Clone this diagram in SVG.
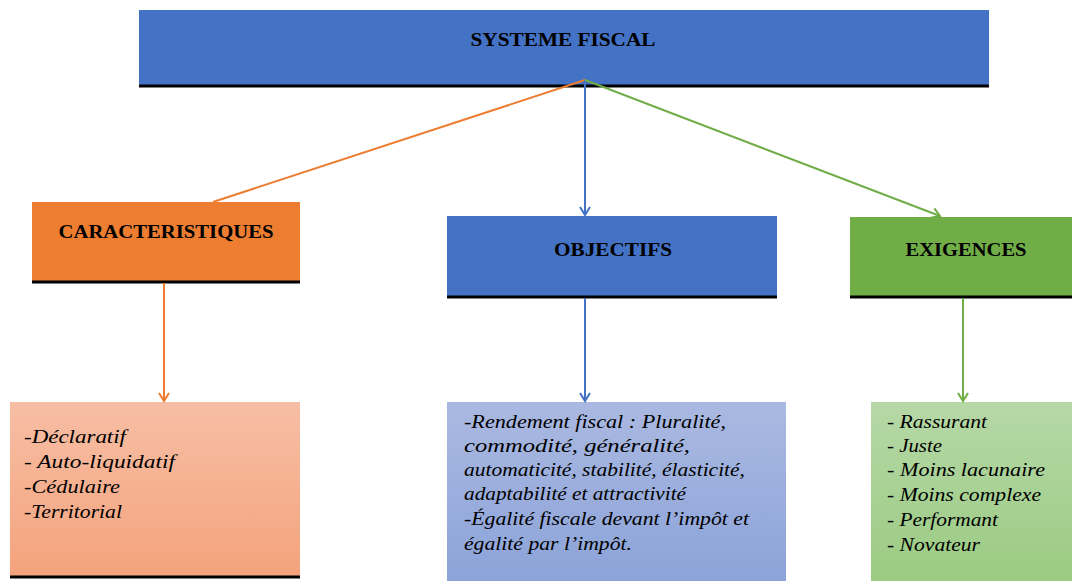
<svg xmlns="http://www.w3.org/2000/svg" width="1072" height="581" viewBox="0 0 1072 581">
<defs>
<linearGradient id="gO" x1="0" y1="0" x2="0" y2="1"><stop offset="0" stop-color="#F7BEA5"/><stop offset="1" stop-color="#F4A37C"/></linearGradient>
<linearGradient id="gB" x1="0" y1="0" x2="0" y2="1"><stop offset="0" stop-color="#AAB9E1"/><stop offset="1" stop-color="#8CA3D9"/></linearGradient>
<linearGradient id="gG" x1="0" y1="0" x2="0" y2="1"><stop offset="0" stop-color="#B6D8A7"/><stop offset="1" stop-color="#9BCB83"/></linearGradient>
<marker id="aO" markerWidth="12" markerHeight="12" refX="10" refY="6" orient="auto" markerUnits="userSpaceOnUse"><path d="M2,1 L10,6 L2,11" fill="none" stroke="#ED7D31" stroke-width="2"/></marker>
<marker id="aB" markerWidth="12" markerHeight="12" refX="10" refY="6" orient="auto" markerUnits="userSpaceOnUse"><path d="M2,1 L10,6 L2,11" fill="none" stroke="#4472C4" stroke-width="2"/></marker>
<marker id="aG" markerWidth="12" markerHeight="12" refX="10" refY="6" orient="auto" markerUnits="userSpaceOnUse"><path d="M2,1 L10,6 L2,11" fill="none" stroke="#70AD47" stroke-width="2"/></marker>
</defs>
<style>
.h{font-family:"Liberation Serif","Times New Roman",serif;font-weight:bold;font-size:18px;fill:#000;text-anchor:middle}
.t{font-family:"Liberation Serif","Times New Roman",serif;font-style:italic;font-size:18px;fill:#000}
.base{stroke:#000;stroke-width:3}
.c{fill:none;stroke-width:2}
</style>
<rect width="1072" height="581" fill="#fff"/>
<g id="systeme">
<rect x="139" y="10" width="850" height="75" fill="#4472C4"/>
<line class="base" x1="139" y1="86" x2="989" y2="86"/>
<text class="h" x="563" y="46" textLength="185" lengthAdjust="spacingAndGlyphs">SYSTEME FISCAL</text>
</g>
<g id="caracteristiques">
<rect x="32" y="202" width="268" height="80" fill="#ED7D31"/>
<line class="base" x1="32" y1="282" x2="300" y2="282"/>
<text class="h" x="166" y="238" textLength="215" lengthAdjust="spacingAndGlyphs">CARACTERISTIQUES</text>
</g>
<g id="objectifs">
<rect x="447" y="216" width="330" height="81" fill="#4472C4"/>
<line class="base" x1="447" y1="297" x2="777" y2="297"/>
<text class="h" x="613" y="256" textLength="118" lengthAdjust="spacingAndGlyphs">OBJECTIFS</text>
</g>
<g id="exigences">
<rect x="850" y="217" width="222" height="80" fill="#70AD47"/>
<line class="base" x1="850" y1="297" x2="1072" y2="297"/>
<text class="h" x="966" y="256" textLength="121" lengthAdjust="spacingAndGlyphs">EXIGENCES</text>
</g>
<g id="liste-caracteristiques">
<rect x="10" y="402" width="290" height="174" fill="url(#gO)"/>
<line class="base" x1="10" y1="577" x2="300" y2="577"/>
<text class="t" x="24" y="443" textLength="102" lengthAdjust="spacingAndGlyphs">-Déclaratif</text>
<text class="t" x="24" y="468" textLength="151" lengthAdjust="spacingAndGlyphs">- Auto-liquidatif</text>
<text class="t" x="24" y="493" textLength="96" lengthAdjust="spacingAndGlyphs">-Cédulaire</text>
<text class="t" x="24" y="518" textLength="98" lengthAdjust="spacingAndGlyphs">-Territorial</text>
</g>
<g id="liste-objectifs">
<rect x="447" y="402" width="339" height="179" fill="url(#gB)"/>
<text class="t" x="464" y="428" textLength="262" lengthAdjust="spacingAndGlyphs">-Rendement fiscal  : Pluralité,</text>
<text class="t" x="464" y="452" textLength="226" lengthAdjust="spacingAndGlyphs">commodité,  généralité,</text>
<text class="t" x="464" y="476" textLength="281" lengthAdjust="spacingAndGlyphs">automaticité, stabilité, élasticité,</text>
<text class="t" x="464" y="500" textLength="222" lengthAdjust="spacingAndGlyphs">adaptabilité et attractivité</text>
<text class="t" x="464" y="525" textLength="285" lengthAdjust="spacingAndGlyphs">-Égalité fiscale devant l’impôt et</text>
<text class="t" x="464" y="550" textLength="168" lengthAdjust="spacingAndGlyphs">égalité par l’impôt.</text>
</g>
<g id="liste-exigences">
<rect x="871" y="402" width="201" height="179" fill="url(#gG)"/>
<text class="t" x="887" y="428" textLength="100" lengthAdjust="spacingAndGlyphs">- Rassurant</text>
<text class="t" x="887" y="452" textLength="55" lengthAdjust="spacingAndGlyphs">- Juste</text>
<text class="t" x="887" y="476" textLength="158" lengthAdjust="spacingAndGlyphs">- Moins lacunaire</text>
<text class="t" x="887" y="501" textLength="154" lengthAdjust="spacingAndGlyphs">- Moins complexe</text>
<text class="t" x="887" y="526" textLength="111" lengthAdjust="spacingAndGlyphs">- Performant</text>
<text class="t" x="887" y="551" textLength="93" lengthAdjust="spacingAndGlyphs">- Novateur</text>
</g>
<g id="connectors">
<line class="c" stroke="#ED7D31" x1="585" y1="80" x2="213" y2="202"/>
<line class="c" stroke="#4472C4" x1="585" y1="80" x2="585" y2="215" marker-end="url(#aB)"/>
<line class="c" stroke="#70AD47" x1="585" y1="80" x2="940" y2="216" marker-end="url(#aG)"/>
<line class="c" stroke="#ED7D31" x1="164" y1="283" x2="164" y2="401" marker-end="url(#aO)"/>
<line class="c" stroke="#4472C4" x1="585" y1="298" x2="585" y2="401" marker-end="url(#aB)"/>
<line class="c" stroke="#70AD47" x1="963" y1="298" x2="963" y2="401" marker-end="url(#aG)"/>
</g>
</svg>
